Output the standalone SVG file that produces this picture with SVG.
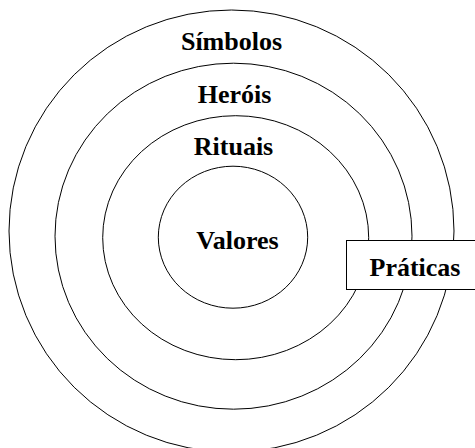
<svg xmlns="http://www.w3.org/2000/svg" width="475" height="448" viewBox="0 0 475 448">
<style>
.ring{fill:none;stroke:#000;stroke-width:1}
text{font-family:'Liberation Serif','Times New Roman',Times,serif;font-weight:700;font-size:26px;fill:#000;text-anchor:middle}
</style>
<rect width="475" height="448" fill="#fff"/>
<g id="simbolos">
<ellipse class="ring" cx="231.5" cy="231" rx="222.5" ry="221"/>
<text x="231.5" y="49.5" font-family="Liberation Serif, serif">Símbolos</text>
</g>
<g id="herois">
<ellipse class="ring" cx="233.5" cy="236.2" rx="178.5" ry="173"/>
<text x="234.5" y="102.7" font-family="Liberation Serif, serif">Heróis</text>
</g>
<g id="rituais">
<ellipse class="ring" cx="235.7" cy="237.7" rx="133" ry="122"/>
<text x="233.5" y="155" font-family="Liberation Serif, serif">Rituais</text>
</g>
<g id="valores">
<ellipse class="ring" cx="233" cy="237.2" rx="74.7" ry="71"/>
<text x="237.5" y="249" font-family="Liberation Serif, serif">Valores</text>
</g>
<g id="praticas">
<rect x="346.5" y="240.5" width="130" height="49" fill="#fff" stroke="#000" stroke-width="1"/>
<text x="415" y="276" font-family="Liberation Serif, serif">Práticas</text>
</g>
</svg>
